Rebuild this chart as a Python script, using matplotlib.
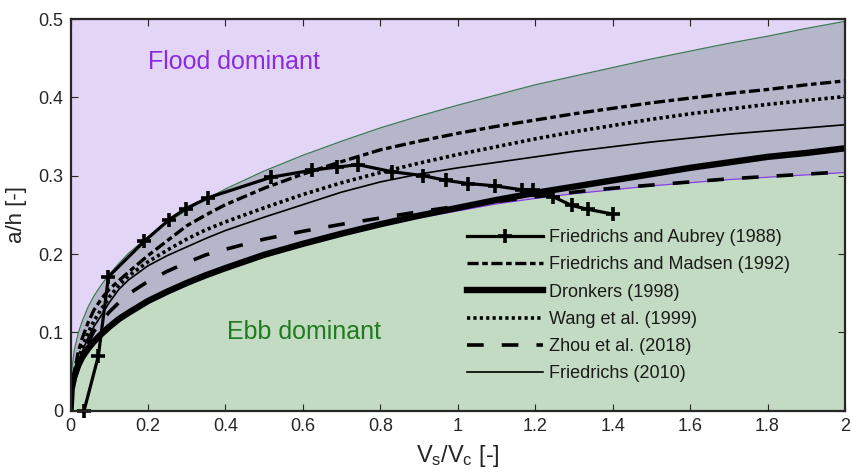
import matplotlib
matplotlib.use("Agg")
import matplotlib.pyplot as plt

plt.rcParams['font.family'] = ['Liberation Sans', 'DejaVu Sans']
plt.rcParams['mathtext.fontset'] = 'custom'
plt.rcParams['mathtext.rm'] = 'Liberation Sans'
plt.rcParams['mathtext.it'] = 'Liberation Sans'
plt.rcParams['lines.scale_dashes'] = False

# ---- data ----
x_grid = [0, 0.003, 0.01, 0.02, 0.03, 0.045, 0.06, 0.08, 0.1, 0.125, 0.15, 0.2, 0.25, 0.3, 0.35, 0.4,
          0.5, 0.6, 0.7, 0.8, 0.9, 1.0, 1.1, 1.2, 1.3, 1.4, 1.5, 1.6, 1.7, 1.8, 1.9, 2.0]
upper_bound = [0, 0.051, 0.078, 0.099, 0.114, 0.132, 0.146, 0.161, 0.174, 0.188, 0.201, 0.222, 0.240, 0.256, 0.270, 0.283,
               0.306, 0.326, 0.344, 0.361, 0.376, 0.390, 0.403, 0.416, 0.427, 0.438, 0.449, 0.459, 0.469, 0.478, 0.488, 0.497]
lower_bound = [0, 0.026, 0.042, 0.056, 0.066, 0.077, 0.086, 0.096, 0.105, 0.115, 0.123, 0.138, 0.150, 0.161, 0.171, 0.180,
               0.197, 0.211, 0.224, 0.236, 0.246, 0.255, 0.264, 0.271, 0.277, 0.282, 0.287, 0.291, 0.295, 0.298, 0.301, 0.304]
madsen_1992 = [0, 0.030, 0.050, 0.075, 0.092, 0.112, 0.128, 0.143, 0.155, 0.166, 0.177, 0.198, 0.217, 0.236, 0.250, 0.263,
               0.284, 0.302, 0.318, 0.333, 0.344, 0.354, 0.363, 0.371, 0.379, 0.386, 0.393, 0.399, 0.405, 0.410, 0.416, 0.421]
dronkers_1998 = [0, 0.028, 0.044, 0.058, 0.068, 0.079, 0.088, 0.098, 0.107, 0.117, 0.125, 0.140, 0.152, 0.163, 0.173, 0.182,
                 0.199, 0.213, 0.226, 0.238, 0.249, 0.259, 0.269, 0.278, 0.286, 0.294, 0.302, 0.310, 0.317, 0.324, 0.329, 0.335]
wang_1999 = [0, 0.025, 0.045, 0.065, 0.080, 0.099, 0.114, 0.130, 0.145, 0.160, 0.172, 0.190, 0.205, 0.219, 0.231, 0.241,
             0.259, 0.276, 0.291, 0.304, 0.316, 0.327, 0.337, 0.347, 0.356, 0.364, 0.372, 0.379, 0.385, 0.391, 0.396, 0.401]
zhou_2018 = [0, 0.020, 0.038, 0.055, 0.068, 0.086, 0.101, 0.114, 0.126, 0.138, 0.149, 0.165, 0.178, 0.189, 0.199, 0.206,
             0.219, 0.229, 0.238, 0.246, 0.254, 0.261, 0.267, 0.273, 0.279, 0.284, 0.288, 0.292, 0.296, 0.299, 0.302, 0.305]
friedrichs_2010 = [0, 0.022, 0.040, 0.060, 0.075, 0.093, 0.107, 0.122, 0.138, 0.155, 0.167, 0.185, 0.198, 0.209, 0.220, 0.230,
                   0.247, 0.263, 0.279, 0.292, 0.302, 0.310, 0.317, 0.324, 0.331, 0.337, 0.343, 0.348, 0.353, 0.357, 0.361, 0.365]

aubrey_x = [0.035, 0.072, 0.098, 0.19, 0.255, 0.298, 0.356, 0.518, 0.623, 0.689, 0.743, 0.831, 0.911, 0.969, 1.027, 1.096, 1.165, 1.195, 1.247, 1.294, 1.337, 1.40]
aubrey_y = [0.0, 0.07, 0.171, 0.216, 0.244, 0.258, 0.272, 0.298, 0.307, 0.311, 0.314, 0.305, 0.300, 0.294, 0.290, 0.287, 0.282, 0.282, 0.273, 0.262, 0.257, 0.251]

labels = ['Friedrichs and Aubrey (1988)', 'Friedrichs and Madsen (1992)', 'Dronkers (1998)',
          'Wang et al. (1999)', 'Zhou et al. (2018)', 'Friedrichs (2010)']
xticks = [0, 0.2, 0.4, 0.6, 0.8, 1, 1.2, 1.4, 1.6, 1.8, 2]
xtick_labels = ['0', '0.2', '0.4', '0.6', '0.8', '1', '1.2', '1.4', '1.6', '1.8', '2']
yticks = [0, 0.1, 0.2, 0.3, 0.4, 0.5]
ytick_labels = ['0', '0.1', '0.2', '0.3', '0.4', '0.5']

# ---- figure ----
fig = plt.figure(figsize=(8.51, 4.76), dpi=100)
ax = fig.add_axes([70.5 / 851, 1 - 410.7 / 476, (845 - 70.5) / 851, (410.7 - 19) / 476])

flood_c = '#E3D5F6'
band_c = '#B5B6C9'
ebb_c = '#C3DBC3'
ax.set_facecolor(flood_c)
ax.fill_between(x_grid, lower_bound, upper_bound, color=band_c, lw=0, zorder=1)
ax.fill_between(x_grid, 0, lower_bound, color=ebb_c, lw=0, zorder=1)
ax.plot(x_grid, upper_bound, color='#3B7A55', lw=0.9, zorder=2)
ax.plot(x_grid, lower_bound, color='#8A3FE0', lw=0.9, zorder=2)

k = 'black'
l1, = ax.plot(aubrey_x, aubrey_y, color=k, lw=2.3, marker='+', ms=10, mew=2.6, zorder=6,
              clip_on=False, label=labels[0])
l2, = ax.plot(x_grid, madsen_1992, color=k, lw=2.4, dashes=(8, 2.6, 4, 2.6), zorder=5, label=labels[1])
l3, = ax.plot(x_grid, dronkers_1998, color=k, lw=4.6, zorder=5, label=labels[2])
l4, = ax.plot(x_grid, wang_1999, color=k, lw=2.6, dashes=(2.3, 2.3), zorder=5, label=labels[3])
l5, = ax.plot(x_grid, zhou_2018, color=k, lw=2.6, dashes=(12, 13), zorder=5, label=labels[4])
l6, = ax.plot(x_grid, friedrichs_2010, color=k, lw=1.2, zorder=5, label=labels[5])

ax.text(0.2, 0.445, 'Flood dominant', color='#8A2BE2', fontsize=18, va='center', ha='left')
ax.text(0.403, 0.1, 'Ebb dominant', color='#1E7B1E', fontsize=18, va='center', ha='left')

ax.set_xlim(0, 2)
ax.set_ylim(0, 0.5)
ax.set_xticks(xticks)
ax.set_xticklabels(xtick_labels)
ax.set_yticks(yticks)
ax.set_yticklabels(ytick_labels)
ax.tick_params(direction='in', length=5, width=0.8, top=True, right=True,
               labelsize=13, colors='#262626', pad=5)
for s in ax.spines.values():
    s.set_linewidth(1.6)
    s.set_color('#262626')
    s.set_zorder(10)

ax.set_ylabel('a/h [-]', fontsize=16, color='#262626', labelpad=8)
ax.set_xlabel('$V_s/V_c$ [-]', fontsize=17, color='#262626', labelpad=6)

leg = ax.legend(handles=[l1, l2, l3, l4, l5, l6], loc='upper left',
                bbox_to_anchor=(467 / 851, 1 - 229 / 476), bbox_transform=fig.transFigure,
                frameon=False, fontsize=13, handlelength=4.2, handletextpad=0.35,
                labelspacing=0.57, borderpad=0, borderaxespad=0, numpoints=1)
for t in leg.get_texts():
    t.set_color('#1a1a1a')

fig.savefig('out.png', dpi=100)
